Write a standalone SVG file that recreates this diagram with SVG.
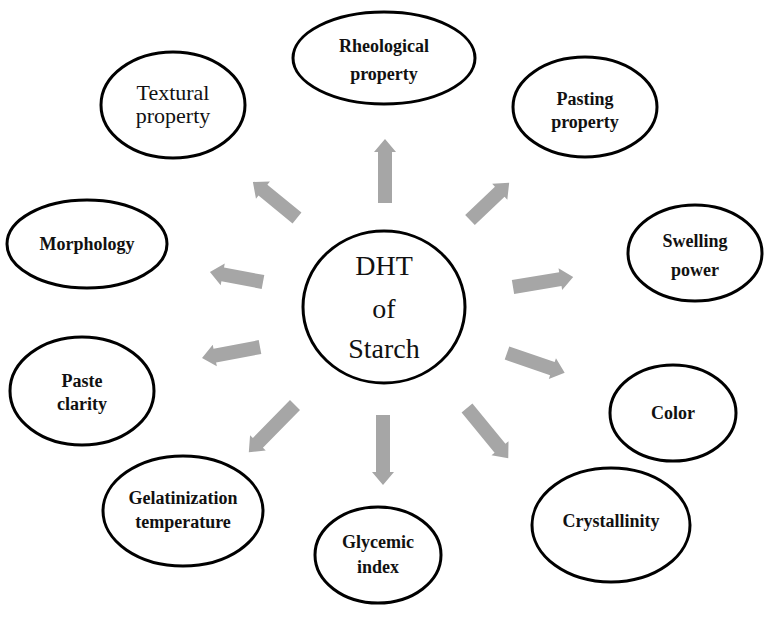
<svg xmlns="http://www.w3.org/2000/svg" width="765" height="618" viewBox="0 0 765 618" font-family="'Liberation Serif', 'Times New Roman', serif">
<style>
.n{fill:#fff;stroke:#000;stroke-width:3}
.t{font-family:'Liberation Serif','Times New Roman',serif;fill:#111;text-anchor:middle}
.b{font-weight:bold;font-size:18px}
.r{font-size:22px}
.a{fill:#a6a6a6}
</style>
<rect width="765" height="618" fill="#fff"/>
<g id="connectors">
<path class="a" transform="translate(385,203) rotate(-90)" d="M0,-7 L51,-7 L51,-11 L64,0 L51,11 L51,7 L0,7 Z"/>
<path class="a" transform="translate(297,218) rotate(-140.7)" d="M0,-7 L44,-7 L44,-11 L57,0 L44,11 L44,7 L0,7 Z"/>
<path class="a" transform="translate(470,220) rotate(-43.5)" d="M0,-7 L41,-7 L41,-11 L54,0 L41,11 L41,7 L0,7 Z"/>
<path class="a" transform="translate(263,282) rotate(-169.3)" d="M0,-7 L41,-7 L41,-11 L54,0 L41,11 L41,7 L0,7 Z"/>
<path class="a" transform="translate(260,347) rotate(169.3)" d="M0,-7 L46,-7 L46,-11 L59,0 L46,11 L46,7 L0,7 Z"/>
<path class="a" transform="translate(295,405) rotate(134.4)" d="M0,-7 L53,-7 L53,-11 L66,0 L53,11 L53,7 L0,7 Z"/>
<path class="a" transform="translate(383,415) rotate(90)" d="M0,-7 L57,-7 L57,-11 L70,0 L57,11 L57,7 L0,7 Z"/>
<path class="a" transform="translate(467,408) rotate(50.6)" d="M0,-7 L52,-7 L52,-11 L65,0 L52,11 L52,7 L0,7 Z"/>
<path class="a" transform="translate(513,287) rotate(-9.5)" d="M0,-7 L48,-7 L48,-11 L61,0 L48,11 L48,7 L0,7 Z"/>
<path class="a" transform="translate(507,353) rotate(19)" d="M0,-7 L48,-7 L48,-11 L61,0 L48,11 L48,7 L0,7 Z"/>
</g>
<g id="center">
<ellipse class="n" cx="384" cy="307" rx="81" ry="76"/>
<text class="t" x="384" y="275" font-size="28">DHT</text>
<text class="t" x="384" y="318" font-size="28">of</text>
<text class="t" x="384" y="358" font-size="28">Starch</text>
</g>
<g id="textural">
<ellipse class="n" cx="173" cy="105" rx="72" ry="53"/>
<text class="t r" x="173" y="100">Textural</text>
<text class="t r" x="173" y="123">property</text>
</g>
<g id="rheological">
<ellipse class="n" cx="384" cy="58" rx="91" ry="46"/>
<text class="t b" x="384" y="52">Rheological</text>
<text class="t b" x="384" y="80">property</text>
</g>
<g id="pasting">
<ellipse class="n" cx="585" cy="107" rx="72" ry="50"/>
<text class="t b" x="585" y="105">Pasting</text>
<text class="t b" x="585" y="128">property</text>
</g>
<g id="morphology">
<ellipse class="n" cx="87" cy="244" rx="80" ry="44"/>
<text class="t b" x="87" y="250">Morphology</text>
</g>
<g id="swelling">
<ellipse class="n" cx="695" cy="253" rx="67" ry="48"/>
<text class="t b" x="695" y="247">Swelling</text>
<text class="t b" x="695" y="276">power</text>
</g>
<g id="paste">
<ellipse class="n" cx="82" cy="391" rx="72" ry="54"/>
<text class="t b" x="82" y="387">Paste</text>
<text class="t b" x="82" y="410">clarity</text>
</g>
<g id="color">
<ellipse class="n" cx="673" cy="413" rx="63" ry="48"/>
<text class="t b" x="673" y="419">Color</text>
</g>
<g id="crystallinity">
<ellipse class="n" cx="611" cy="525" rx="79" ry="57"/>
<text class="t b" x="611" y="527">Crystallinity</text>
</g>
<g id="glycemic">
<ellipse class="n" cx="378" cy="555" rx="63" ry="48"/>
<text class="t b" x="378" y="548">Glycemic</text>
<text class="t b" x="378" y="573">index</text>
</g>
<g id="gelatinization">
<ellipse class="n" cx="183" cy="511" rx="80" ry="55"/>
<text class="t b" x="183" y="504">Gelatinization</text>
<text class="t b" x="183" y="528">temperature</text>
</g>
</svg>
